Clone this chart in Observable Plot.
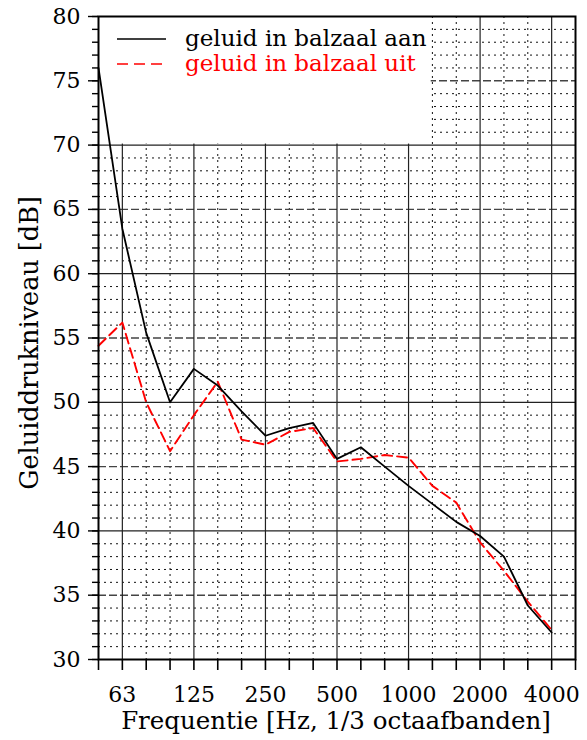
<!DOCTYPE html>
<html><head><meta charset="utf-8">
<script src="https://cdn.jsdelivr.net/npm/d3@7"></script>
<script src="https://cdn.jsdelivr.net/npm/@observablehq/plot@0.6"></script>
<style>body{margin:0;background:#fff}</style>
</head><body><div id="chart"></div>
<script>
// 1/3-octave band centre frequencies (data points)
const bands = ["50","63","80","100","125","160","200","250","315","400","500","630","800","1000","1250","1600","2000","2500","3150","4000"];
const axisBands = [...bands, "5000"];
const seriesNames = ["geluid in balzaal aan", "geluid in balzaal uit"];
const aan = [76.0,63.5,55.4,50.0,52.6,51.3,49.3,47.4,48.0,48.4,45.6,46.5,45.0,43.5,42.1,40.7,39.6,38.0,34.2,32.1];
const uit = [54.4,56.2,50.0,46.2,49.0,51.6,47.1,46.7,47.7,48.0,45.4,45.6,45.9,45.7,43.5,42.2,39.1,36.9,34.5,32.3];
const xTickLabels = ["63","125","250","500","1000","2000","4000"];
const yTickLabels = [30,35,40,45,50,55,60,65,70,75,80];
const xLabel = "Frequentie [Hz, 1/3 octaafbanden]";
const yLabel = "Geluiddrukniveau [dB]";

const xIdx = d3.range(axisBands.length);
const octIdx = xTickLabels.map(l => axisBands.indexOf(l));
const minorX = xIdx.filter(i => i > 0 && i < axisBands.length - 1 && !octIdx.includes(i));
const yAll = d3.range(31, 80);
const ySolid = yAll.filter(v => v % 10 === 0);
const yDash = yAll.filter(v => v % 5 === 0 && v % 10 !== 0);
const yDot = yAll.filter(v => v % 5 !== 0);
const legendBox = {x1: 0, x2: axisBands.indexOf("1250") - 0.05, y1: 70.08, y2: 80};

const plot = Plot.plot({
  width: 587, height: 740,
  marginLeft: 98, marginRight: 12, marginTop: 16, marginBottom: 81,
  style: {fontFamily: "DejaVu Serif", fontSize: "22px", background: "white", color: "black"},
  x: {type: "linear", domain: [0, axisBands.length - 1]},
  y: {domain: [30, 80]},
  marks: [
    Plot.ruleY(yDot, {stroke: "#111", strokeDasharray: "2,4", strokeWidth: 1}),
    Plot.ruleX(minorX, {stroke: "#111", strokeDasharray: "2,4", strokeWidth: 1}),
    Plot.ruleY(yDash, {stroke: "#444", strokeDasharray: "8,3", strokeWidth: 1.4}),
    Plot.ruleY(ySolid, {stroke: "#222", strokeWidth: 1.2}),
    Plot.ruleX(octIdx, {stroke: "#222", strokeWidth: 1.2}),
    Plot.rect([legendBox], {x1: "x1", x2: "x2", y1: "y1", y2: "y2", fill: "white"}),
    Plot.line(bands, {x: (d, i) => i, y: (d, i) => uit[i], stroke: "#ff0000", strokeWidth: 1.9, strokeDasharray: "10,5"}),
    Plot.line(bands, {x: (d, i) => i, y: (d, i) => aan[i], stroke: "black", strokeWidth: 1.8}),
    Plot.frame({stroke: "black", strokeWidth: 2}),
    Plot.axisY(d3.range(30, 81), {tickSize: 6, tickFormat: () => "", strokeWidth: 1.4, label: null}),
    Plot.axisY(yTickLabels, {tickSize: 10, tickPadding: 8, strokeWidth: 1.4, fontSize: 22, label: null}),
    Plot.axisX(xIdx, {tickSize: 11, tickFormat: () => "", strokeWidth: 1.6, label: null}),
    Plot.axisX(octIdx, {tickSize: 0, tickPadding: 27, tickFormat: i => axisBands[i], fontSize: 22, label: null})
  ]
});

const svg = d3.select(plot);
// axis titles
svg.append("text").attr("x", 336).attr("y", 729).attr("text-anchor", "middle")
  .attr("font-size", 24.5).attr("fill", "black").text(xLabel);
svg.append("text").attr("transform", "translate(38,343) rotate(-90)").attr("text-anchor", "middle")
  .attr("font-size", 25.5).attr("fill", "black").text(yLabel);
// legend
const leg = svg.append("g").attr("text-anchor", "start");
const legItems = [
  {name: seriesNames[0], color: "black", dash: null, y: 39, w: 1.4},
  {name: seriesNames[1], color: "#ff0000", dash: "11,6", y: 64, w: 1.4}
];
legItems.forEach(it => {
  leg.append("line").attr("x1", 117).attr("x2", 166).attr("y1", it.y).attr("y2", it.y)
    .attr("stroke", it.color).attr("stroke-width", it.w).attr("stroke-dasharray", it.dash);
  leg.append("text").attr("x", 185).attr("y", it.y + 7).attr("font-size", 23)
    .attr("text-anchor", "start").attr("fill", it.color).text(it.name);
});
document.getElementById("chart").appendChild(plot);
</script>
</body></html>
